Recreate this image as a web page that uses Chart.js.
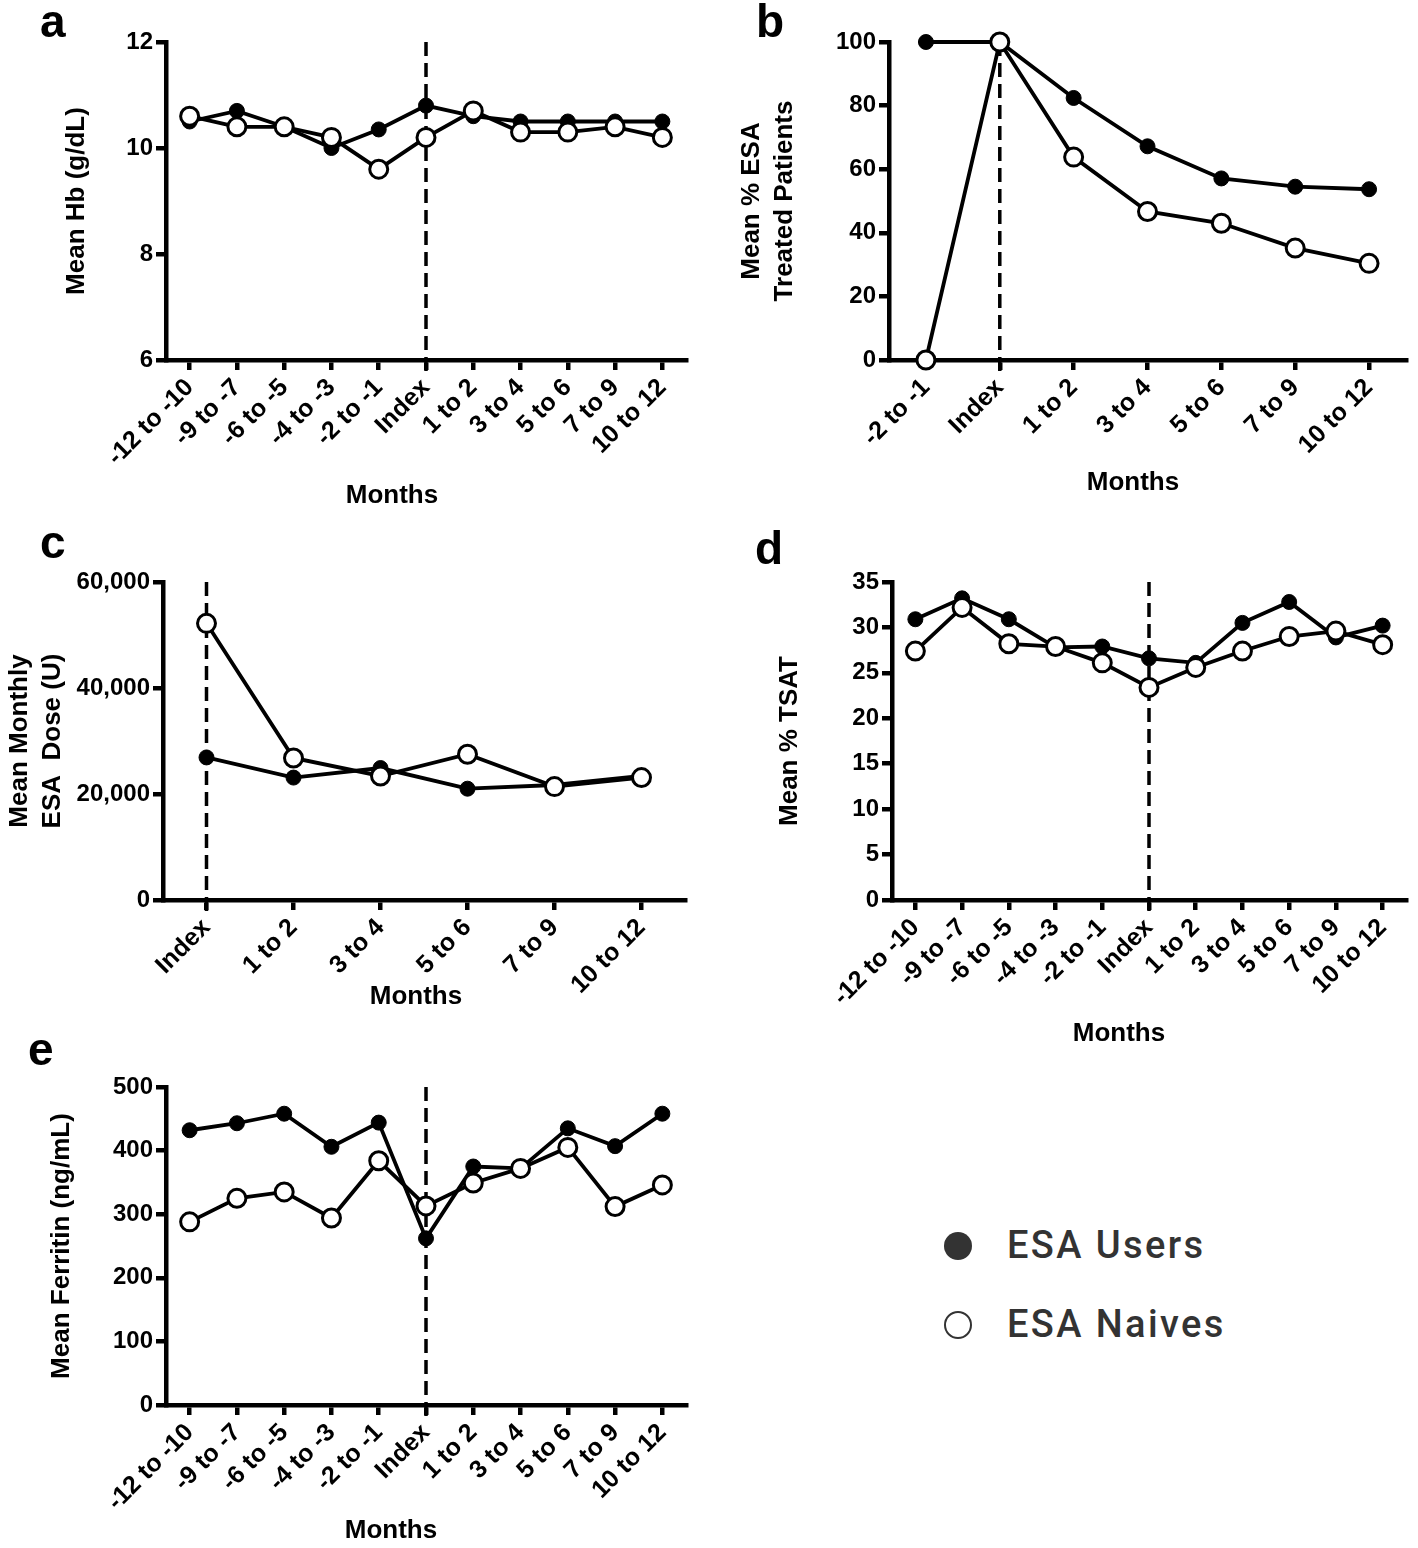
<!DOCTYPE html>
<html>
<head>
<meta charset="utf-8">
<script src="https://cdn.jsdelivr.net/npm/chart.js@4.4.1/dist/chart.umd.min.js"></script>
<style>
  html, body { margin: 0; padding: 0; background: #fff; }
  body { width: 1418px; height: 1548px; position: relative; overflow: hidden; font-family: "Liberation Sans", Arial, sans-serif; }
  canvas { position: absolute; }
  .txt { position: absolute; white-space: nowrap; color: #000; font-weight: bold; }
  .letter { font-size: 46px; line-height: 46px; }
  .months { font-size: 26px; line-height: 26px; transform: translateX(-50%); }
  .leg { position: absolute; font-family: Roboto, "Liberation Sans", sans-serif; font-weight: 500; font-size: 38px; line-height: 38px; color: #333; letter-spacing: 2.4px; white-space: nowrap; }
  .dot { position: absolute; border-radius: 50%; box-sizing: border-box; }
</style>
</head>
<body>
<canvas id="cA" width="700" height="520" style="left:0px;top:0px"></canvas>
<canvas id="cB" width="718" height="520" style="left:700px;top:0px"></canvas>
<canvas id="cC" width="700" height="520" style="left:0px;top:520px"></canvas>
<canvas id="cD" width="718" height="530" style="left:700px;top:520px"></canvas>
<canvas id="cE" width="700" height="508" style="left:0px;top:1040px"></canvas>

<div class="txt letter" style="left:40px;top:-2px">a</div>
<div class="txt letter" style="left:756px;top:-2px">b</div>
<div class="txt letter" style="left:40px;top:519px">c</div>
<div class="txt letter" style="left:755px;top:525px">d</div>
<div class="txt letter" style="left:28px;top:1026px">e</div>

<div class="txt months" style="left:392px;top:481px">Months</div>
<div class="txt months" style="left:1133px;top:468px">Months</div>
<div class="txt months" style="left:416px;top:982px">Months</div>
<div class="txt months" style="left:1119px;top:1019px">Months</div>
<div class="txt months" style="left:391px;top:1516px">Months</div>

<div class="dot" style="left:944px;top:1232px;width:28px;height:28px;background:#333;"></div>
<div class="dot" style="left:944px;top:1311px;width:28px;height:28px;border:2px solid #333;background:#fff;"></div>
<div class="leg" style="left:1007px;top:1226px">ESA Users</div>
<div class="leg" style="left:1007px;top:1305px">ESA Naives</div>

<script>
// ---- Category labels ----
const monthsFull = ['-12 to -10', '-9 to -7', '-6 to -5', '-4 to -3', '-2 to -1', 'Index', '1 to 2', '3 to 4', '5 to 6', '7 to 9', '10 to 12'];
const monthsB = ['-2 to -1', 'Index', '1 to 2', '3 to 4', '5 to 6', '7 to 9', '10 to 12'];
const monthsC = ['Index', '1 to 2', '3 to 4', '5 to 6', '7 to 9', '10 to 12'];

// ---- Series values ----
const hbUsers   = [10.5, 10.7, 10.4, 10.0, 10.35, 10.8, 10.6, 10.5, 10.5, 10.5, 10.5];
const hbNaives  = [10.6, 10.4, 10.4, 10.2, 9.6, 10.2, 10.7, 10.3, 10.3, 10.4, 10.2];

const esaPctUsers  = [100, 100, 82.4, 67.2, 57.1, 54.5, 53.7];
const esaPctNaives = [0, 100, 63.8, 46.7, 43.0, 35.2, 30.4];

const doseUsers  = [26900, 23100, 24900, 21000, 21700, 23400];
const doseNaives = [52200, 26800, 23400, 27500, 21400, 23100];

const tsatUsers  = [30.9, 33.2, 30.9, 27.8, 27.9, 26.6, 26.1, 30.5, 32.8, 28.9, 30.2];
const tsatNaives = [27.4, 32.2, 28.2, 27.9, 26.1, 23.4, 25.6, 27.4, 29.0, 29.6, 28.1];

const ferUsers  = [432, 443, 458, 406, 444, 262, 375, 372, 435, 407, 458];
const ferNaives = [288, 325, 335, 294, 384, 313, 349, 372, 405, 312, 346];

// ---- Axis ranges / ticks ----
const hbTicks   = {min: 6, max: 12, step: 2};
const pctTicks  = {min: 0, max: 100, step: 20};
const doseTicks = {min: 0, max: 60000, step: 20000};
const tsatTicks = {min: 0, max: 35, step: 5};
const ferTicks  = {min: 0, max: 500, step: 100};

const FONT = '"Liberation Sans", Arial, sans-serif';

const indexLine = {
  id: 'indexLine',
  beforeDatasetsDraw(chart) {
    const xs = chart.scales.x;
    const i = chart.data.labels.indexOf('Index');
    if (i < 0) return;
    const x = xs.getPixelForValue(i);
    const {top, bottom} = chart.chartArea;
    const ctx = chart.ctx;
    ctx.save();
    ctx.strokeStyle = '#000';
    ctx.lineWidth = 3.5;
    ctx.setLineDash([14, 7]);
    ctx.beginPath();
    ctx.moveTo(x, top);
    ctx.lineTo(x, bottom + 13);
    ctx.stroke();
    ctx.restore();
  }
};

function makeChart(id, labels, users, naives, rng, c) {
  const axisGrid = {display: true, drawOnChartArea: false, drawTicks: true, tickLength: 10, lineWidth: 4.5, color: '#000'};
  const axisBorder = {display: true, width: 4.5, color: '#000'};
  return new Chart(document.getElementById(id), {
    type: 'line',
    data: {
      labels: labels,
      datasets: [
        {label: 'ESA Users', data: users, borderColor: '#000', backgroundColor: '#000', borderWidth: 3.8,
         pointRadius: 7.5, pointBackgroundColor: '#000', pointBorderColor: '#000', pointBorderWidth: 1,
         tension: 0, clip: false, order: 2},
        {label: 'ESA Naives', data: naives, borderColor: '#000', backgroundColor: '#fff', borderWidth: 3.8,
         pointRadius: 9, pointBackgroundColor: '#fff', pointBorderColor: '#000', pointBorderWidth: 3,
         tension: 0, clip: false, order: 1}
      ]
    },
    options: {
      responsive: false,
      animation: false,
      events: [],
      layout: {padding: {left: c.padL, top: c.padT, right: c.padR, bottom: 0}},
      plugins: {legend: {display: false}, tooltip: {enabled: false}},
      scales: {
        x: {
          type: 'category', offset: true,
          grid: axisGrid, border: axisBorder,
          ticks: {color: '#000', font: {family: FONT, size: 25, weight: 'bold'}, minRotation: 45, maxRotation: 45, autoSkip: false, padding: 3},
          afterFit(s) { s.height = c.xH; }
        },
        y: {
          min: rng.min, max: rng.max,
          grid: axisGrid, border: axisBorder,
          ticks: {stepSize: rng.step, color: '#000', font: {family: FONT, size: 24, weight: 'bold'}, padding: 3,
                  callback: (v) => Number(v).toLocaleString('en-US')},
          title: {display: true, text: c.title, color: '#000', font: {family: FONT, size: 26, weight: 'bold', lineHeight: 1.27}, padding: {top: 0, bottom: 0}},
          afterFit(s) { s.width = c.yW; }
        }
      }
    },
    plugins: [indexLine]
  });
}

// half title line height = 26*1.27/2 = 16.5
makeChart('cA', monthsFull, hbUsers, hbNaives, hbTicks,
  {padL: 77 - 16.5, padT: 42, padR: 14, xH: 160, yW: 166 - (77 - 16.5), title: 'Mean Hb (g/dL)'});
makeChart('cB', monthsB, esaPctUsers, esaPctNaives, pctTicks,
  {padL: 52 - 16.5, padT: 42, padR: 5, xH: 160, yW: 189 - (52 - 16.5), title: ['Mean % ESA', 'Treated Patients']});
makeChart('cC', monthsC, doseUsers, doseNaives, doseTicks,
  {padL: 20 - 16.5, padT: 62, padR: 15, xH: 140, yW: 163 - (20 - 16.5), title: ['Mean Monthly', 'ESA  Dose (U)']});
makeChart('cD', monthsFull, tsatUsers, tsatNaives, tsatTicks,
  {padL: 90 - 16.5, padT: 62, padR: 3, xH: 150, yW: 192 - (90 - 16.5), title: 'Mean % TSAT'});
makeChart('cE', monthsFull, ferUsers, ferNaives, ferTicks,
  {padL: 62 - 16.5, padT: 47, padR: 14, xH: 143, yW: 166 - (62 - 16.5), title: 'Mean Ferritin (ng/mL)'});
</script>
</body>
</html>
